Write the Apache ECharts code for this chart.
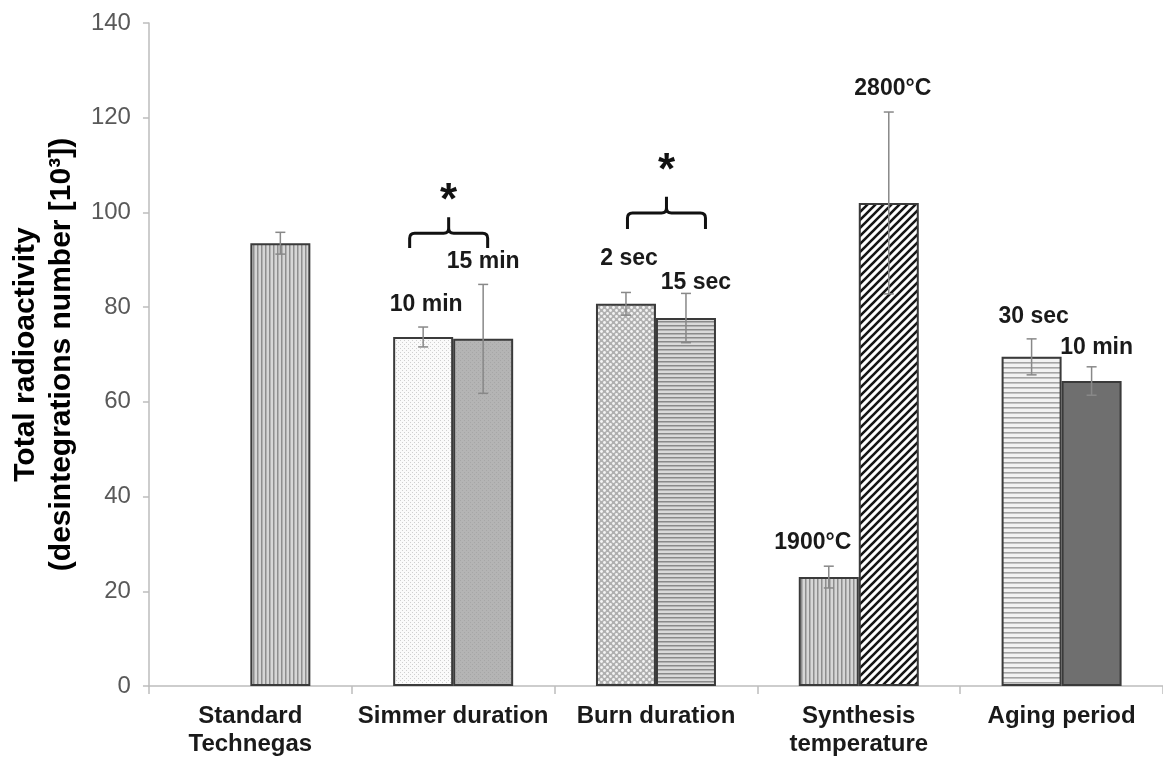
<!DOCTYPE html>
<html>
<head>
<meta charset="utf-8">
<script src="https://cdn.jsdelivr.net/npm/echarts@6/dist/echarts.min.js"></script>
<style>
html,body{margin:0;padding:0;background:#fff;}
#chart{width:1163px;height:763px;}
</style>
</head>
<body>
<div id="chart"></div>
<script>
// categories + values
var categories = ['Standard\nTechnegas', 'Simmer duration', 'Burn duration', 'Synthesis\ntemperature', 'Aging period'];
var firstValues = [null, 73.7, 80.7, 23.0, 69.5];
var firstErrors = [null, 2.1, 2.4, 2.3, 3.8];
var firstLabels = ['', '10 min', '2 sec', '1900°C', '30 sec'];
var secondValues = [93.5, 73.3, 77.7, 102.0, 64.4];
var secondErrors = [2.3, 11.5, 5.2, 19.2, 3.0];
var secondLabels = ['', '15 min', '15 sec', '2800°C', '10 min'];
var yMin = 0, yMax = 140, yStep = 20;
// significance brackets (value units)
var sigCats = [1, 2];
var sigLow = [92.5, 96.5];
var sigLine = [95.6, 99.9];
var sigPeak = [99.0, 103.3];
var sigStar = [102.2, 108.5];

var BAR_W = 60;
var FONT = '"Liberation Sans", Arial, sans-serif';

function pattern(w, h, draw){
    var c = document.createElement('canvas');
    c.width = w; c.height = h;
    var ctx = c.getContext('2d');
    draw(ctx, w, h);
    return {image: c, repeat: 'repeat'};
}
var pVertical = pattern(4, 4, function(ctx){
    ctx.fillStyle = '#d6d6d6'; ctx.fillRect(0, 0, 4, 4);
    ctx.fillStyle = '#8e8e8e'; ctx.fillRect(1, 0, 1.5, 4);
});
var pLightDots = pattern(4, 4, function(ctx){
    ctx.fillStyle = '#fafafa'; ctx.fillRect(0, 0, 4, 4);
    ctx.fillStyle = '#cfcfcf'; ctx.fillRect(0, 0, 1, 1); ctx.fillRect(2, 2, 1, 1);
});
var pGrey = pattern(4, 4, function(ctx){
    ctx.fillStyle = '#b4b4b4'; ctx.fillRect(0, 0, 4, 4);
    ctx.fillStyle = '#a6a6a6'; ctx.fillRect(0, 0, 1, 1); ctx.fillRect(2, 2, 1, 1);
});
var pChecker = pattern(6, 6, function(ctx){
    ctx.fillStyle = '#b0b0b0'; ctx.fillRect(0, 0, 6, 6);
    ctx.fillStyle = '#f4f4f4';
    ctx.beginPath(); ctx.arc(1.5, 1.5, 1.4, 0, Math.PI * 2); ctx.fill();
    ctx.beginPath(); ctx.arc(4.5, 4.5, 1.4, 0, Math.PI * 2); ctx.fill();
});
var pHorizontal = pattern(4, 4, function(ctx){
    ctx.fillStyle = '#dadada'; ctx.fillRect(0, 0, 4, 4);
    ctx.fillStyle = '#8a8a8a'; ctx.fillRect(0, 1, 4, 1.5);
});
var pHorizontalLight = pattern(5, 5, function(ctx){
    ctx.fillStyle = '#f2f2f2'; ctx.fillRect(0, 0, 5, 5);
    ctx.fillStyle = '#a4a4a4'; ctx.fillRect(0, 2, 5, 1.6);
});
var pDiagonal = pattern(8, 8, function(ctx){
    ctx.fillStyle = '#ffffff'; ctx.fillRect(0, 0, 8, 8);
    ctx.strokeStyle = '#161616'; ctx.lineWidth = 2.6;
    ctx.beginPath();
    ctx.moveTo(-4, 4); ctx.lineTo(4, -4);
    ctx.moveTo(0, 8); ctx.lineTo(8, 0);
    ctx.moveTo(4, 12); ctx.lineTo(12, 4);
    ctx.stroke();
});
var firstFills = [null, pLightDots, pChecker, pVertical, pHorizontalLight];
var secondFills = [pVertical, pGrey, pHorizontal, pDiagonal, '#6f6f6f'];
// label placement: [lift above bar top, x nudge]
var firstPlace = [null, [32, 3], [45, 3], [34, -16], [40, 2]];
var secondPlace = [null, [77, 0], [35, 10], [114, 4], [33, 5]];

function barItems(values, fills, labels, place){
    return values.map(function(v, i){
        if (v == null) return '-';
        var item = {value: v, itemStyle: {color: fills[i]}};
        if (labels[i]) {
            item.label = {
                show: true, position: 'top', distance: place[i][0], offset: [place[i][1], 0],
                verticalAlign: 'middle', formatter: labels[i],
                fontFamily: FONT, fontWeight: 'bold', fontSize: 23, color: '#1a1a1a'
            };
        }
        return item;
    });
}

var errData = [];
firstValues.forEach(function(v, i){ if (v != null) errData.push([i, v, firstErrors[i], -1]); });
secondValues.forEach(function(v, i){ if (v != null) errData.push([i, v, secondErrors[i], 1]); });

var sigData = sigCats.map(function(c, i){ return [c, sigLow[i], sigLine[i], sigPeak[i], sigStar[i]]; });
var sigShift = [-4.5, 10.5];

var chart = echarts.init(document.getElementById('chart'));
var option = {
    animation: false,
    backgroundColor: '#fff',
    grid: {left: 148, right: 0, top: 23, bottom: 77},
    xAxis: {
        type: 'category',
        data: categories,
        axisLine: {lineStyle: {color: '#bdbdbd', width: 1.5}},
        axisTick: {show: true, interval: 0, length: 8, lineStyle: {color: '#bdbdbd', width: 1.5}},
        axisLabel: {interval: 0, fontFamily: FONT, fontWeight: 'bold', fontSize: 24, lineHeight: 28, color: '#1a1a1a', margin: 16}
    },
    yAxis: {
        type: 'value',
        min: yMin, max: yMax, interval: yStep,
        name: 'Total radioactivity\n(desintegrations number [10³])',
        nameLocation: 'middle',
        nameRotate: 90,
        nameGap: 66,
        nameTextStyle: {fontFamily: FONT, fontWeight: 'bold', fontSize: 30, lineHeight: 36, color: '#000'},
        splitLine: {show: false},
        axisLine: {show: true, lineStyle: {color: '#bdbdbd', width: 1.5}},
        axisTick: {show: true, length: 6, lineStyle: {color: '#bdbdbd', width: 1.5}},
        axisLabel: {fontFamily: FONT, fontSize: 24, color: '#595959', margin: 18}
    },
    series: [
        {
            type: 'bar', barWidth: BAR_W, barGap: '0%',
            itemStyle: {borderColor: '#3a3a3a', borderWidth: 2},
            data: barItems(firstValues, firstFills, firstLabels, firstPlace)
        },
        {
            type: 'bar', barWidth: BAR_W, barGap: '0%',
            itemStyle: {borderColor: '#3a3a3a', borderWidth: 2},
            data: barItems(secondValues, secondFills, secondLabels, secondPlace)
        },
        {
            type: 'custom', z: 5,
            data: errData,
            renderItem: function(params, api){
                var idx = api.value(0), v = api.value(1), e = api.value(2), side = api.value(3);
                var top = api.coord([idx, v + e]);
                var bot = api.coord([idx, v - e]);
                var x = top[0] + side * BAR_W / 2;
                var cap = 5;
                var st = {stroke: '#888', lineWidth: 1.5, fill: null};
                return {type: 'group', children: [
                    {type: 'line', shape: {x1: x, y1: top[1], x2: x, y2: bot[1]}, style: st},
                    {type: 'line', shape: {x1: x - cap, y1: top[1], x2: x + cap, y2: top[1]}, style: st},
                    {type: 'line', shape: {x1: x - cap, y1: bot[1], x2: x + cap, y2: bot[1]}, style: st}
                ]};
            }
        },
        {
            type: 'custom', z: 6,
            data: sigData,
            renderItem: function(params, api){
                var c = api.coord([api.value(0), api.value(1)]);
                var cx = c[0] + sigShift[params.dataIndex];
                var yLow = c[1];
                var yLine = api.coord([api.value(0), api.value(2)])[1];
                var yPeak = api.coord([api.value(0), api.value(3)])[1];
                var yStar = api.coord([api.value(0), api.value(4)])[1];
                var hw = 39, r = 5;
                var x0 = cx - hw, x1 = cx + hw;
                var d = 'M' + x0 + ' ' + yLow + ' L' + x0 + ' ' + (yLine + r) +
                    ' Q' + x0 + ' ' + yLine + ' ' + (x0 + r) + ' ' + yLine +
                    ' L' + (cx - r) + ' ' + yLine +
                    ' Q' + cx + ' ' + yLine + ' ' + cx + ' ' + (yLine - r) +
                    ' L' + cx + ' ' + yPeak +
                    ' M' + cx + ' ' + (yLine - r) +
                    ' Q' + cx + ' ' + yLine + ' ' + (cx + r) + ' ' + yLine +
                    ' L' + (x1 - r) + ' ' + yLine +
                    ' Q' + x1 + ' ' + yLine + ' ' + x1 + ' ' + (yLine + r) +
                    ' L' + x1 + ' ' + yLow;
                return {type: 'group', children: [
                    {type: 'path', shape: {pathData: d}, style: {stroke: '#111', lineWidth: 3, fill: null}},
                    {type: 'text', x: cx, y: yStar, style: {text: '*', align: 'center', verticalAlign: 'middle',
                        font: 'bold 44px ' + FONT, fill: '#111'}}
                ]};
            }
        }
    ]
};
chart.setOption(option);
window.onresize = function(){ chart.resize(); };
</script>
</body>
</html>
